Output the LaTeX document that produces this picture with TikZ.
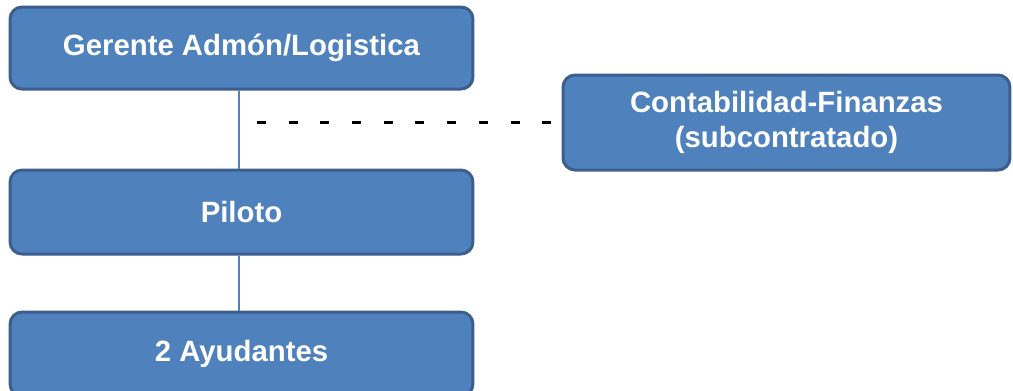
\documentclass[tikz,border=0pt]{standalone}
\usepackage{fontspec}
\setmainfont{Liberation Sans}
\begin{document}
\definecolor{boxfill}{HTML}{4F81BD}
\definecolor{boxedge}{HTML}{3A5F8E}
\definecolor{linkcol}{HTML}{4F81BD}
\begin{tikzpicture}[x=0.02cm,y=-0.02cm,
  orgbox/.style={draw=boxedge, fill=boxfill, line width=0.06cm,
    rounded corners=0.24cm, text=white, font=\bfseries\fontsize{16.7}{20}\selectfont,
    align=center, inner sep=0pt},
  link/.style={draw=linkcol, line width=0.055cm},
  dashlink/.style={draw=black, line width=0.065cm, dash pattern=on 0.18cm off 0.454cm}]
  \useasboundingbox (0,0) rectangle (1013,390);
  \node[orgbox, minimum width=9.26cm, minimum height=1.64cm] (g) at (241.5,48) {Gerente Admón/Logistica};
  \node[orgbox, minimum width=9.26cm, minimum height=1.68cm] (p) at (241.5,212) {Piloto};
  \node[orgbox, minimum width=9.26cm, minimum height=1.68cm] (a) at (241.5,354) {2 Ayudantes};
  \node[orgbox, minimum width=8.94cm, minimum height=1.90cm] (c) at (786.5,122.5) {Contabilidad-Finanzas\\(subcontratado)};
  \coordinate (d) at (257,122.5);
  \draw[link] ([xshift=-0.05cm]g.south) -- ([xshift=-0.05cm]p.north);
  \draw[link] ([xshift=-0.05cm]p.south) -- ([xshift=-0.05cm]a.north);
  \draw[dashlink] (d) -- ([xshift=-0.1cm]c.west);
\end{tikzpicture}
\end{document}
